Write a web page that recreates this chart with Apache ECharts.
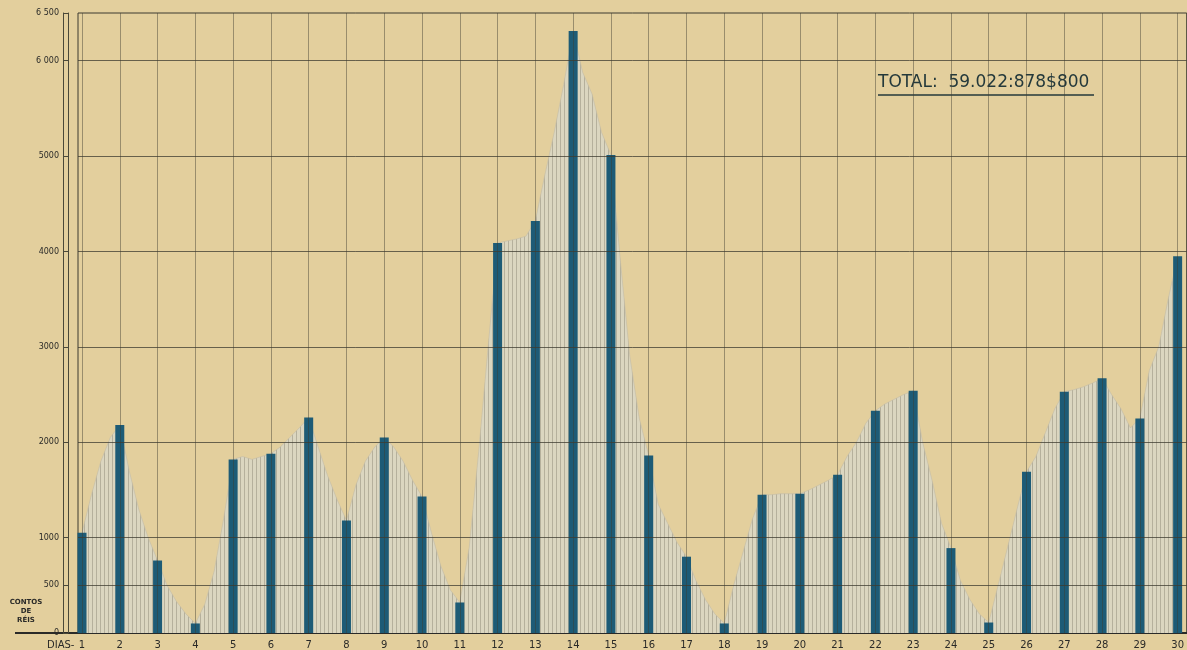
<!DOCTYPE html>
<html>
<head>
<meta charset="utf-8">
<script src="https://cdn.jsdelivr.net/npm/echarts@6/dist/echarts.min.js"></script>
<style>
html,body{margin:0;padding:0;background:#e3cf9d;}
#chart{width:1187px;height:650px;}
</style>
</head>
<body>
<div id="chart"></div>
<script>
// ---- data ----
const days = [1,2,3,4,5,6,7,8,9,10,11,12,13,14,15,16,17,18,19,20,21,22,23,24,25,26,27,28,29,30];
const dailyTotals = [1050,2180,760,100,1820,1880,2260,1180,2050,1430,
                     320,4090,4320,6310,5010,1860,800,100,1450,1460,
                     1660,2330,2540,890,110,1690,2530,2670,2250,3950];
// grey hatched envelope read between the days (fractional day positions)
const betweenX = [1.25,1.5,1.75, 2.25,2.5,2.75, 3.25,3.5,3.75, 4.25,4.5,4.75, 5.25,5.5,5.75,
                  6.25,6.5,6.75, 7.25,7.5,7.75, 8.25,8.5,8.75, 9.25,9.5,9.75, 10.25,10.5,10.75,
                  11.25,11.5,11.75, 12.25,12.5,12.75, 13.25,13.5,13.75, 14.25,14.5,14.75,
                  15.25,15.5,15.75, 16.25,16.5,16.75, 17.25,17.5,17.75, 18.25,18.5,18.75,
                  19.25,19.5,19.75, 20.25,20.5,20.75, 21.25,21.5,21.75, 22.25,22.5,22.75,
                  23.25,23.5,23.75, 24.25,24.5,24.75, 25.25,25.5,25.75, 26.25,26.5,26.75,
                  27.25,27.5,27.75, 28.25,28.5,28.75, 29.25,29.5,29.75];
const betweenY = [1450,1800,2050, 1700,1300,1000, 500,330,200, 300,650,1200, 1850,1820,1850,
                  1950,2050,2150, 1950,1650,1400, 1550,1800,1950, 1950,1800,1600, 1050,700,450,
                  900,1900,3000, 4110,4130,4160, 4800,5250,5750, 5880,5650,5250,
                  3900,2900,2250, 1350,1150,950, 550,350,200, 500,850,1200,
                  1450,1460,1460, 1500,1550,1600, 1850,2000,2200, 2400,2450,2500,
                  2000,1600,1150, 550,350,200, 500,900,1300, 1850,2100,2350,
                  2550,2580,2620, 2500,2350,2150, 2750,3000,3500];
const yTickValues = [0,500,1000,2000,3000,4000,5000,6000,6500];
const yTickText   = ['0','500','1000','2000','3000','4000','5000','6 000','6 500'];
const gridYValues = [500,1000,2000,3000,4000,5000,6000];
const totalText = 'TOTAL:  59.022:878$800';
const xAxisTitle = 'DIAS-';
const unitText = 'CONTOS\nDE\nRÉIS';

// ---- build series data ----
const barData = days.map((d,i)=>[d, dailyTotals[i]]);
const envelope = barData.concat(betweenX.map((x,i)=>[x, betweenY[i]]))
  .sort((a,b)=>a[0]-b[0]);

// hatch pattern for the grey area
const pat = document.createElement('canvas');
pat.width = 4; pat.height = 8;
const pctx = pat.getContext('2d');
pctx.fillStyle = '#dbd6c0'; pctx.fillRect(0,0,4,8);
pctx.fillStyle = '#b5b09c'; pctx.fillRect(0,0,1,8);

const lineCol = '#3d3b30';
const chart = echarts.init(document.getElementById('chart'), null, {renderer:'canvas'});
chart.setOption({
  backgroundColor: '#e3cf9d',
  animation: false,
  grid: {left:78, right:0, top:13, bottom:17, show:true, borderColor:lineCol, borderWidth:1, backgroundColor:'transparent'},
  xAxis: {
    type:'value', min:0.894, max:30.24,
    axisLine:{show:true, lineStyle:{color:'#2a2a28', width:2}},
    axisTick:{show:false},
    splitLine:{show:false},
    axisLabel:{customValues: days, color:'#2a2a28', fontSize:10, fontFamily:'DejaVu Sans', margin:7}
  },
  yAxis: [{
    type:'value', min:0, max:6500, offset:10,
    axisLine:{show:true, lineStyle:{color:'#4a4838', width:1}},
    axisTick:{show:true, customValues: yTickValues, length:5, lineStyle:{color:'#4a4838'}},
    splitLine:{show:false},
    axisLabel:{customValues: yTickValues, color:'#2a2a28', fontSize:8, fontFamily:'DejaVu Sans', margin:9,
      formatter: v => yTickText[yTickValues.indexOf(v)] ?? String(v)}
  },{
    type:'value', min:0, max:6500, offset:15, position:'left',
    axisLine:{show:true, lineStyle:{color:'#4a4838', width:1}},
    axisTick:{show:false}, splitLine:{show:false}, axisLabel:{show:false}
  }],
  series: [
    {
      type:'line', data:[], z:1, silent:true,
      markLine:{
        symbol:'none', silent:true, animation:false,
        label:{show:false},
        lineStyle:{color:lineCol, width:1, type:'solid', opacity:0.75},
        data: gridYValues.map(v=>({yAxis:v}))
      }
    },
    {
      type:'line', data:[], z:1, silent:true,
      markLine:{
        symbol:'none', silent:true, animation:false,
        label:{show:false},
        lineStyle:{color:lineCol, width:1, type:'solid', opacity:0.45},
        data: days.map(d=>({xAxis:d}))
      }
    },
    {
      type:'line', data: envelope, z:2, symbol:'none', silent:true,
      lineStyle:{width:0.6, color:'#c2bca8'},
      areaStyle:{color:{image: pat, repeat:'repeat'}, opacity:1}
    },
    {
      type:'bar', data: barData, z:3, barWidth:9,
      itemStyle:{color:'#1d5b76'}
    }
  ],
  graphic: [
    {type:'text', left:878, top:74, style:{text: totalText, font:'17px "DejaVu Sans"', fill:'#24393b'}},
    {type:'line', shape:{x1:878, y1:95, x2:1094, y2:95}, style:{stroke:'#24393b', lineWidth:1.5}},
    {type:'text', x:26, y:598, style:{text: unitText, font:'bold 7px "DejaVu Sans"', fill:'#2a2a28', align:'center', lineHeight:9}},
    {type:'text', x:47, y:640, style:{text: xAxisTitle, font:'10px "DejaVu Sans"', fill:'#2a2a28'}},
    {type:'line', shape:{x1:15, y1:633, x2:78, y2:633}, style:{stroke:'#2a2a28', lineWidth:2}}
  ]
});
</script>
</body>
</html>
